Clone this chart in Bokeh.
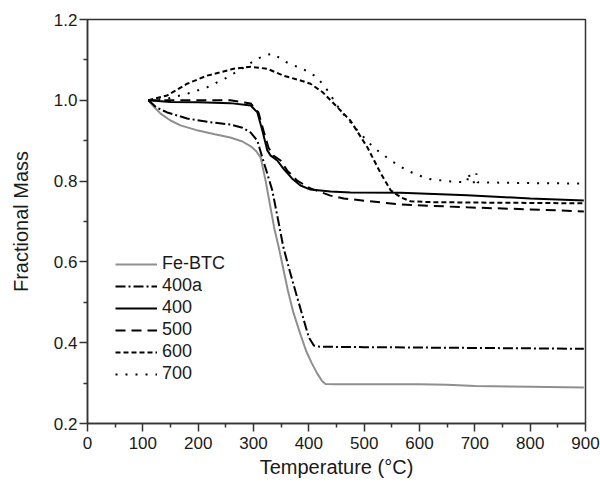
from bokeh.plotting import figure
from bokeh.models import FixedTicker, CustomJSTickFormatter
from bokeh.embed import file_html
from bokeh.resources import INLINE

# ---- data ----
fe_T = [110, 120, 132, 150, 168, 200, 230, 258, 280, 295, 305, 313, 318, 322, 330, 338, 345, 352, 362, 372, 385, 395, 405, 415, 424, 430, 450, 500, 600, 650, 700, 800, 897]
fe_m = [1.0, 0.984, 0.967, 0.95, 0.938, 0.925, 0.916, 0.908, 0.898, 0.886, 0.874, 0.858, 0.826, 0.80, 0.74, 0.68, 0.64, 0.595, 0.53, 0.475, 0.42, 0.38, 0.35, 0.324, 0.305, 0.298, 0.297, 0.297, 0.297, 0.296, 0.293, 0.291, 0.289]

a400_T = [110, 125, 144, 180, 220, 258, 280, 295, 307, 316, 325, 334, 345, 354, 366, 379, 390, 400, 409, 420, 500, 600, 700, 800, 897]
a400_m = [1.0, 0.982, 0.97, 0.955, 0.946, 0.94, 0.932, 0.92, 0.9, 0.858, 0.818, 0.777, 0.70, 0.636, 0.575, 0.512, 0.46, 0.413, 0.393, 0.39, 0.389, 0.388, 0.387, 0.386, 0.385]

s400_T = [110, 150, 200, 258, 295, 307, 316, 325, 331, 343, 354, 370, 385, 403, 439, 475, 566, 686, 800, 897]
s400_m = [1.0, 0.996, 0.995, 0.993, 0.987, 0.97, 0.925, 0.876, 0.863, 0.851, 0.831, 0.806, 0.789, 0.779, 0.774, 0.772, 0.771, 0.765, 0.757, 0.752]

s500_T = [110, 150, 200, 258, 295, 309, 318, 327, 336, 349, 361, 379, 403, 439, 463, 566, 686, 800, 897]
s500_m = [1.0, 1.0, 1.0, 1.0, 0.992, 0.97, 0.925, 0.883, 0.863, 0.851, 0.826, 0.801, 0.782, 0.764, 0.757, 0.742, 0.735, 0.73, 0.725]

s600_T = [110, 144, 180, 216, 264, 295, 325, 354, 385, 403, 425, 445, 475, 506, 530, 548, 566, 584, 620, 686, 800, 897]
s600_m = [1.0, 1.012, 1.041, 1.061, 1.078, 1.083, 1.078, 1.061, 1.049, 1.041, 1.02, 0.992, 0.95, 0.883, 0.819, 0.777, 0.76, 0.75, 0.748, 0.747, 0.746, 0.745]

s700_T = [110, 144, 180, 216, 253, 282, 307, 325, 336, 354, 372, 385, 415, 434, 457, 488, 517, 548, 578, 614, 656, 686, 689, 692, 701, 703, 705, 800, 897]
s700_m = [1.0, 1.004, 1.016, 1.032, 1.057, 1.081, 1.103, 1.113, 1.115, 1.098, 1.086, 1.081, 1.057, 1.024, 0.975, 0.925, 0.883, 0.851, 0.826, 0.806, 0.799, 0.797, 0.821, 0.797, 0.797, 0.819, 0.797, 0.795, 0.794]

x_ticks = [0, 100, 200, 300, 400, 500, 600, 700, 800, 900]
y_ticks = [0.2, 0.4, 0.6, 0.8, 1.0, 1.2]

FONT = "Liberation Sans"
TXT = "#1a1a1a"

p = figure(width=600, height=482, x_range=(0, 900), y_range=(0.2, 1.2),
           output_backend="svg", toolbar_location=None,
           min_border_left=87, min_border_right=15, min_border_top=19, min_border_bottom=59)

p.line(fe_T, fe_m, line_color="#8f8f8f", line_width=2, legend_label="Fe-BTC")
p.line(a400_T, a400_m, line_color="black", line_width=2, line_dash="10 3 2 3", legend_label="400a")
p.line(s400_T, s400_m, line_color="black", line_width=2, legend_label="400")
p.line(s500_T, s500_m, line_color="black", line_width=2, line_dash="10 6", legend_label="500")
p.line(s600_T, s600_m, line_color="black", line_width=2, line_dash="5 3", legend_label="600")
p.line(s700_T, s700_m, line_color="black", line_width=2, line_dash="2 8", legend_label="700")

p.xgrid.grid_line_color = None
p.ygrid.grid_line_color = None
p.outline_line_color = "#333333"
p.outline_line_width = 1.5

p.xaxis.ticker = FixedTicker(ticks=x_ticks, minor_ticks=[50 + 100 * i for i in range(9)])
p.yaxis.ticker = FixedTicker(ticks=y_ticks, minor_ticks=[0.3, 0.5, 0.7, 0.9, 1.1])
p.yaxis.formatter = CustomJSTickFormatter(code="return tick.toFixed(1);")

for ax in (p.xaxis[0], p.yaxis[0]):
    ax.axis_line_color = "#333333"
    ax.axis_line_width = 1.5
    ax.major_tick_line_color = "#333333"
    ax.minor_tick_line_color = "#333333"
    ax.major_tick_line_width = 1.5
    ax.minor_tick_line_width = 1.5
    ax.major_tick_in = 0
    ax.major_tick_out = 8
    ax.minor_tick_in = 0
    ax.minor_tick_out = 4
    ax.major_label_text_font = FONT
    ax.major_label_text_font_size = "17px"
    ax.major_label_text_color = TXT
    ax.axis_label_text_font = FONT
    ax.axis_label_text_font_size = "20px"
    ax.axis_label_text_font_style = "normal"
    ax.axis_label_text_color = TXT

p.xaxis.major_label_standoff = 5
p.yaxis.major_label_standoff = 2

p.yaxis.axis_label = "Fractional Mass"
p.yaxis.axis_label_standoff = 19
p.xaxis.axis_label = "Temperature (°C)"
p.xaxis.axis_label_standoff = 4

lg = p.legend[0]
lg.location = (28, 39)
lg.padding = 0
lg.margin = 0
lg.spacing = 1
lg.border_line_color = None
lg.background_fill_alpha = 0
lg.glyph_width = 42
lg.glyph_height = 20
lg.label_height = 20
lg.label_standoff = 5
lg.label_text_font = FONT
lg.label_text_font_size = "18px"
lg.label_text_color = TXT

open("out.html", "w").write(file_html(p, INLINE))
